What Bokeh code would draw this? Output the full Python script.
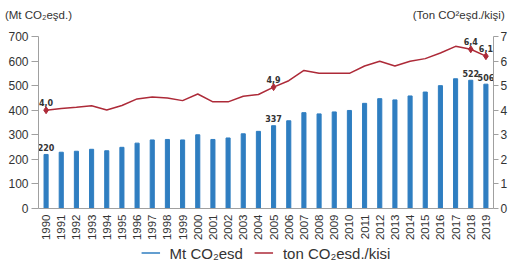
import math
from bokeh.plotting import figure
from bokeh.layouts import column
from bokeh.models import (ColumnDataSource, Range1d, LinearAxis, FixedTicker,
                          Legend, LegendItem)
from bokeh.embed import file_html
from bokeh.resources import INLINE

years = list(range(1990, 2020))
emissions = [220, 229, 233, 241, 235, 249, 266, 279, 281, 279,
             300, 281, 287, 304, 314, 337, 357, 390, 385, 393,
             399, 428, 447, 442, 458, 474, 500, 528, 522, 506]
per_capita = [4.0, 4.07, 4.12, 4.18, 4.01, 4.19, 4.46, 4.54, 4.50, 4.39,
              4.66, 4.34, 4.34, 4.57, 4.64, 4.94, 5.20, 5.62, 5.50, 5.50,
              5.50, 5.80, 5.99, 5.80, 5.99, 6.10, 6.33, 6.60, 6.48, 6.20]
bar_label_years = [1990, 2005, 2018, 2019]
bar_label_text = ["220", "337", "522", "506"]
line_label_years = [1990, 2005, 2018, 2019]
line_label_text = ["4,0", "4,9", "6,4", "6,1"]
left_ticks = [0, 100, 200, 300, 400, 500, 600, 700]
right_ticks = [0, 1, 2, 3, 4, 5, 6, 7]
left_title = "(Mt CO\u2082eşd.)"
right_title = "(Ton CO\u00b2eşd./kişi)"
legend_labels = ["Mt CO\u2082esd", "ton CO\u2082esd./kisi"]

BLUE = "#2f7ec1"
RED = "#ad2a38"
GREY = "#a0a0a0"
TXT = "#333333"
FONT = "Liberation Sans"
FW = 458

p = figure(width=510, height=244, output_backend="svg",
           toolbar_location=None,
           x_range=Range1d(1989.5, 2019.5), y_range=Range1d(0, 700),
           min_border_left=38, min_border_right=14, min_border_top=36,
           min_border_bottom=36)
p.extra_y_ranges = {"pc": Range1d(0, 7)}
p.extra_x_ranges = {"px": Range1d(0, FW)}
p.outline_line_color = None
p.xgrid.visible = False
p.ygrid.visible = False
p.background_fill_color = "white"

src = ColumnDataSource(dict(x=years, y=emissions, pc=per_capita))
p.vbar(x="x", top="y", width=0.27, color=BLUE, source=src)
p.line(x="x", y="pc", y_range_name="pc", color=RED, line_width=1.5, source=src)

mk = ColumnDataSource(dict(
    x=line_label_years,
    y=[per_capita[years.index(v)] for v in line_label_years],
    t=line_label_text))
p.scatter(x="x", y="y", y_range_name="pc", marker="diamond", size=7,
          color=RED, source=mk)
p.text(x="x", y="y", text="t", y_range_name="pc", source=mk,
       text_align="center", text_baseline="alphabetic", y_offset=-8,
       text_font_size="8px", text_font_style="bold", text_color=TXT,
       text_font={"value": "DejaVu Sans"})

bl = ColumnDataSource(dict(
    x=bar_label_years,
    y=[emissions[years.index(v)] for v in bar_label_years],
    t=bar_label_text))
p.text(x="x", y="y", text="t", source=bl,
       text_align="center", text_baseline="alphabetic", y_offset=-7,
       text_font_size="8px", text_font_style="bold", text_color=TXT,
       text_font={"value": "DejaVu Sans"})

# bottom axis
xa = p.xaxis[0]
xa.axis_label = None
xa.ticker = FixedTicker(ticks=years)
xa.major_label_orientation = math.pi / 2
xa.major_tick_out = 0
xa.major_tick_in = 0
xa.minor_tick_out = 0
xa.minor_tick_in = 0
xa.axis_line_color = GREY
xa.major_label_standoff = 6
xa.major_label_text_font = FONT
xa.major_label_text_font_size = "11.5px"
xa.major_label_text_color = TXT

# left axis
ya = p.yaxis[0]
ya.ticker = FixedTicker(ticks=left_ticks)
ya.axis_line_color = GREY
ya.major_tick_line_color = GREY
ya.major_tick_out = 7
ya.major_tick_in = 0
ya.minor_tick_out = 0
ya.minor_tick_in = 0
ya.major_label_standoff = 3
ya.major_label_text_font = FONT
ya.major_label_text_font_size = "12px"
ya.major_label_text_color = TXT

# right axis
ra = LinearAxis(y_range_name="pc", ticker=FixedTicker(ticks=right_ticks))
ra.axis_line_color = GREY
ra.major_tick_line_color = GREY
ra.major_tick_out = 5
ra.major_tick_in = 0
ra.minor_tick_out = 0
ra.minor_tick_in = 0
ra.major_label_standoff = 2
ra.major_label_text_font = FONT
ra.major_label_text_font_size = "12px"
ra.major_label_text_color = TXT
p.add_layout(ra, "right")

# unit titles as labels of a bare top axis
ta = LinearAxis(x_range_name="px", ticker=FixedTicker(ticks=[0, 423]),
                major_label_overrides={0: left_title, 423: right_title})
ta.axis_line_color = None
ta.major_tick_line_color = None
ta.minor_tick_line_color = None
ta.major_tick_out = 0
ta.major_label_standoff = 16
ta.major_label_text_font = FONT
ta.major_label_text_font_size = "11.5px"
ta.major_label_text_color = TXT
p.add_layout(ta, "above")

# legend strip below the chart
lf = figure(width=510, height=17, output_backend="svg", toolbar_location=None,
            x_range=Range1d(0, 1), y_range=Range1d(0, 1),
            min_border_left=0, min_border_right=0, min_border_top=0,
            min_border_bottom=0)
lf.axis.visible = False
lf.grid.visible = False
lf.outline_line_color = None
lb = lf.line(x=[0, 0], y=[-1, -1], color=BLUE, line_width=1.5)
lr = lf.line(x=[0, 0], y=[-1, -1], color=RED, line_width=1.5)
leg = Legend(items=[LegendItem(label=legend_labels[0], renderers=[lb]),
                    LegendItem(label=legend_labels[1], renderers=[lr])],
             orientation="horizontal", location="center",
             border_line_color=None, background_fill_alpha=0,
             label_text_font=FONT, label_text_font_size="15px",
             label_text_color=TXT, glyph_width=19, glyph_height=14,
             label_height=14, spacing=11, padding=0, margin=0,
             label_standoff=10)
lf.add_layout(leg, "center")

open("out.html", "w").write(file_html(column(p, lf, spacing=0), INLINE))
